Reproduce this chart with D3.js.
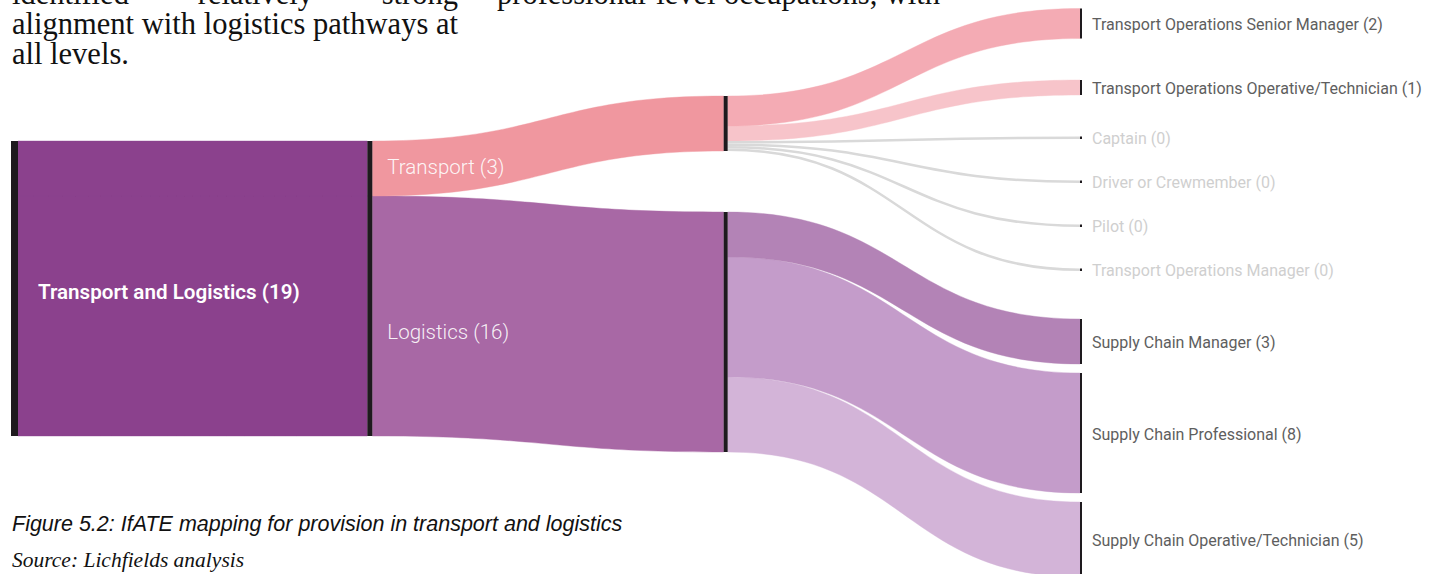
<!DOCTYPE html>
<html>
<head>
<meta charset="utf-8">
<script src="https://cdn.jsdelivr.net/npm/d3@7"></script>
<style>
  html, body { margin: 0; padding: 0; background: #fff; }
  svg { display: block; }
</style>
</head>
<body>
<div id="chart"></div>
<script>
// ---- data ----
const sectorName = "Transport and Logistics";
const routeNames = ["Transport", "Logistics"];
const occupationNames = [
    "Transport Operations Senior Manager",
    "Transport Operations Operative/Technician",
    "Captain",
    "Driver or Crewmember",
    "Pilot",
    "Transport Operations Manager",
    "Supply Chain Manager",
    "Supply Chain Professional",
    "Supply Chain Operative/Technician"
];
const occupationRoutes = ["Transport", "Transport", "Transport", "Transport", "Transport", "Transport",
    "Logistics", "Logistics", "Logistics"];
const occupationCounts = [2, 1, 0, 0, 0, 0, 3, 8, 5];

// surrounding report text
const introLeft = ["identified relatively strong", "alignment with logistics pathways at", "all levels."];
const introRight = ["professional-level occupations, with"];
const captionText = "Figure 5.2: IfATE mapping for provision in transport and logistics";
const sourceText = "Source: Lichfields analysis";

// ---- styles ----
const sectorColour = "#8b418d";
const routeColours = ["#f0979f", "#a868a5"];
const occupationColours = ["#f4abb4", "#f7c4ca", "#d9d9d9", "#d9d9d9", "#d9d9d9", "#d9d9d9",
    "#b383b6", "#c49cca", "#d3b4d8"];
const nodeColour = "#1e1a1e";
const labelFont = "Roboto, 'Noto Sans', sans-serif";

const width = 1442;
const height = 574;

// Set up scales
const unit = d3.scaleLinear().domain([0, 1]).range([0, 15]);   // px per qualification
const zeroWidth = 2.5;                                         // empty pathways still get a hairline
const colX = d3.scaleLinear().domain([0, 3]).range([11, 1080]);
const nodeWidths = [7, 5, 4, 2];

const svg = d3.select('#chart')
    .append('svg')
    .attr('width', width)
    .attr('height', height);

// Build nodes
const routeColour = d3.scaleOrdinal().domain(routeNames).range(routeColours);
const occColour = d3.scaleOrdinal().domain(occupationNames).range(occupationColours);

const occupations = occupationNames.map((name, i) => ({
    name: name,
    route: occupationRoutes[i],
    value: occupationCounts[i],
    h: occupationCounts[i] > 0 ? unit(occupationCounts[i]) : zeroWidth
}));

const routes = routeNames.map(name => {
    const kids = occupations.filter(o => o.route === name);
    return { name: name, kids: kids, value: d3.sum(kids, d => d.value), h: d3.sum(kids, d => d.h) };
});

const sector = { name: sectorName, value: d3.sum(routes, d => d.value), h: d3.sum(routes, d => d.h) };

function place(node, col, y0) {
    return { ...node, col: col, x0: colX(col), x1: colX(col) + nodeWidths[col], y0: y0, y1: y0 + node.h };
}

// column 0 : the sector
const sectorTop = 141;
const col0 = place(sector, 0, sectorTop);

// column 1 : routes, stacked flush against each other
let y = sectorTop;
const col1 = routes.map(r => { const n = place(r, 1, y); y = n.y1; return n; });

// column 2 : routes again, spaced apart
const routeTop = 96, routePad = 61;
y = routeTop;
const col2 = routes.map(r => { const n = place(r, 2, y); y = n.y1 + routePad; return n; });

// column 3 : occupations. first route hangs from the top, last route sits on the bottom
const occTop = 8.5, occBottom = 577, padTop = 41.5, padBottom = 9;
const col3 = [];
y = occTop;
routes[0].kids.forEach(o => { const n = place(o, 3, y); y = n.y1 + padTop; col3.push(n); });
y = occBottom;
routes[routes.length - 1].kids.slice().reverse().forEach(o => {
    const n = place(o, 3, y - o.h); y = n.y0 - padBottom; col3.push(n);
});
col3.sort((a, b) => occupationNames.indexOf(a.name) - occupationNames.indexOf(b.name));

// Build links (source band -> target band)
const links = [];
let sy = col0.y0;
col1.forEach(t => {
    links.push({ sx: col0.x1, sy0: sy, sy1: sy + t.h, tx: t.x0, ty0: t.y0, ty1: t.y1, colour: sectorColour, value: t.value });
    sy += t.h;
});
col1.forEach((s, i) => {
    const t = col2[i];
    links.push({ sx: s.x1, sy0: s.y0, sy1: s.y1, tx: t.x0, ty0: t.y0, ty1: t.y1, colour: routeColour(s.name), value: s.value });
});
col2.forEach(s => {
    let yy = s.y0;
    s.kids.forEach(k => {
        const t = col3.find(n => n.name === k.name);
        links.push({ sx: s.x1, sy0: yy, sy1: yy + k.h, tx: t.x0, ty0: t.y0, ty1: t.y1, colour: occColour(k.name), value: k.value });
        yy += k.h;
    });
});

// ribbon with constant vertical thickness
function ribbon(d) {
    const mx = (d.sx + d.tx) / 2;
    const p = d3.path();
    p.moveTo(d.sx, d.sy0);
    p.bezierCurveTo(mx, d.sy0, mx, d.ty0, d.tx, d.ty0);
    p.lineTo(d.tx, d.ty1);
    p.bezierCurveTo(mx, d.ty1, mx, d.sy1, d.sx, d.sy1);
    p.closePath();
    return p.toString();
}

const hairline = d3.linkHorizontal();

const linkLayer = svg.append('g');
linkLayer.selectAll('path.ribbon')
    .data(links.filter(d => d.value > 0).reverse())
    .enter()
    .append('path')
    .attr('class', 'ribbon')
    .attr('d', ribbon)
    .attr('fill', d => d.colour)
    .attr('stroke', d => d.colour)
    .attr('stroke-width', 0.4);

linkLayer.selectAll('path.zero')
    .data(links.filter(d => d.value === 0))
    .enter()
    .append('path')
    .attr('class', 'zero')
    .attr('d', d => hairline({ source: [d.sx, (d.sy0 + d.sy1) / 2], target: [d.tx, (d.ty0 + d.ty1) / 2] }))
    .attr('fill', 'none')
    .attr('stroke', d => d.colour)
    .attr('stroke-width', zeroWidth);

// Create the nodes
const allNodes = [col0].concat(col1, col2, col3);
svg.append('g')
    .selectAll('rect')
    .data(allNodes)
    .enter()
    .append('rect')
    .attr('x', d => d.x0)
    .attr('y', d => d.y0)
    .attr('width', d => d.x1 - d.x0)
    .attr('height', d => Math.max(d.y1 - d.y0, 2.5))
    .attr('fill', nodeColour);

// Labels
const labels = svg.append('g').attr('font-family', labelFont);

labels.append('text')
    .attr('x', col0.x1 + 20)
    .attr('y', (col0.y0 + col0.y1) / 2 + 3)
    .attr('dominant-baseline', 'central')
    .attr('font-size', 20.6)
    .attr('font-weight', 600)
    .attr('fill', '#fff')
    .text(`${col0.name} (${col0.value})`);

// route labels sit inside their band, pulled toward the next node where there is room
labels.selectAll('text.route')
    .data(col1)
    .enter()
    .append('text')
    .attr('class', 'route')
    .attr('x', d => d.x1 + 15)
    .attr('y', (d, i) => {
        const next = col2[i];
        return Math.max(d.y0 + 26, Math.min(d.y1 - 26, (next.y0 + next.y1) / 2));
    })
    .attr('dominant-baseline', 'central')
    .attr('font-size', 20.5)
    .attr('font-weight', 300)
    .attr('fill', '#fff')
    .attr('fill-opacity', 0.92)
    .text(d => `${d.name} (${d.value})`);

labels.selectAll('text.occ')
    .data(col3)
    .enter()
    .append('text')
    .attr('class', 'occ')
    .attr('x', d => d.x1 + 10)
    .attr('y', d => (d.y0 + d.y1) / 2 + 1)
    .attr('dominant-baseline', 'central')
    .attr('font-size', 16)
    .attr('font-weight', 400)
    .attr('fill', d => d.value > 0 ? '#5e5e5e' : '#cfcfcf')
    .text(d => `${d.name} (${d.value})`);

// Report text around the figure (justified two-column paragraph, cut at the top)
const prose = svg.append('g')
    .attr('font-family', "'Liberation Serif', 'Times New Roman', serif")
    .attr('font-size', 30.5)
    .attr('fill', '#111');

function justify(sel, w) {
    const n = sel.text().split(' ').length - 1;
    const natural = sel.node().getComputedTextLength();
    if (n > 0 && natural < w) sel.attr('word-spacing', (w - natural) / n);
}

introLeft.forEach((line, i) => {
    const t = prose.append('text').attr('x', 12).attr('y', 4 + i * 30).text(line);
    if (i < introLeft.length - 1) justify(t, 446);
});
introRight.forEach((line, i) => {
    const t = prose.append('text').attr('x', 497).attr('y', 4 + i * 30).text(line);
    justify(t, 443);
});

svg.append('text')
    .attr('x', 12)
    .attr('y', 531)
    .attr('font-family', "'Liberation Sans', Arial, sans-serif")
    .attr('font-style', 'italic')
    .attr('font-size', 21.5)
    .attr('fill', '#111')
    .text(captionText);

svg.append('text')
    .attr('x', 12)
    .attr('y', 567)
    .attr('font-family', "'Liberation Serif', 'Times New Roman', serif")
    .attr('font-style', 'italic')
    .attr('font-size', 21.5)
    .attr('fill', '#111')
    .text(sourceText);
</script>
</body>
</html>
